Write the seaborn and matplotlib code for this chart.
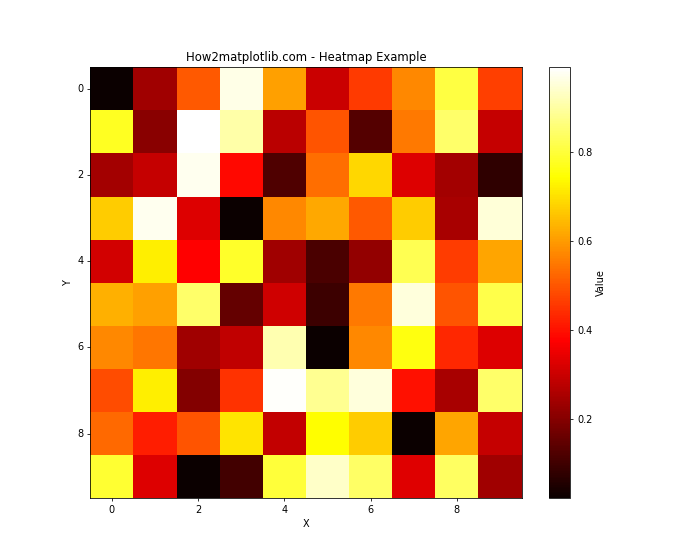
import numpy as np
import seaborn as sns
import matplotlib
matplotlib.use('Agg')
import matplotlib.pyplot as plt

# values (rows 0..9, columns 0..9)
row0 = [0.024, 0.241, 0.504, 0.966, 0.606, 0.300, 0.458, 0.571, 0.806, 0.467]
row1 = [0.775, 0.206, 0.990, 0.906, 0.278, 0.497, 0.128, 0.548, 0.843, 0.294]
row2 = [0.244, 0.291, 0.972, 0.388, 0.121, 0.533, 0.684, 0.325, 0.244, 0.077]
row3 = [0.670, 0.974, 0.325, 0.022, 0.571, 0.617, 0.504, 0.670, 0.251, 0.949]
row4 = [0.312, 0.719, 0.376, 0.783, 0.241, 0.116, 0.219, 0.821, 0.462, 0.613]
row5 = [0.629, 0.606, 0.846, 0.152, 0.309, 0.097, 0.548, 0.953, 0.497, 0.814]
row6 = [0.571, 0.545, 0.241, 0.283, 0.914, 0.025, 0.574, 0.759, 0.432, 0.325]
row7 = [0.486, 0.719, 0.197, 0.448, 0.984, 0.883, 0.953, 0.400, 0.251, 0.846]
row8 = [0.528, 0.417, 0.497, 0.704, 0.289, 0.744, 0.670, 0.024, 0.613, 0.294]
row9 = [0.793, 0.325, 0.024, 0.105, 0.800, 0.937, 0.841, 0.329, 0.837, 0.241]

tick_labels = [0, 2, 4, 6, 8]

data = np.array([row0, row1, row2, row3, row4, row5, row6, row7, row8, row9])

fig, ax = plt.subplots(figsize=(10, 8), dpi=70)
sns.heatmap(data, cmap='hot', square=True, ax=ax, cbar_kws={'label': 'Value'})

# imshow-like ticks: every other cell, labels horizontal
ax.set_xticks(np.array(tick_labels) + 0.5, labels=tick_labels, rotation=0)
ax.set_yticks(np.array(tick_labels) + 0.5, labels=tick_labels, rotation=0)
for spine in ax.spines.values():
    spine.set_visible(True)
cbar = ax.collections[0].colorbar
cbar.outline.set_linewidth(0.8)

ax.set_title('How2matplotlib.com - Heatmap Example')
ax.set_xlabel('X')
ax.set_ylabel('Y')

plt.savefig('out.png')
